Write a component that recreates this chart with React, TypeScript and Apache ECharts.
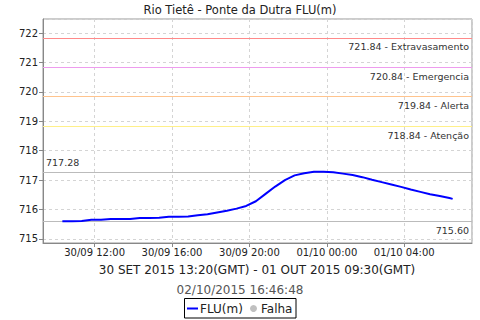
import React, { useEffect, useRef } from "react";
import * as echarts from "echarts";

const titleText = "Rio Tietê - Ponte da Dutra FLU(m)";
const subtitleText = "30 SET 2015 13:20(GMT) - 01 OUT 2015 09:30(GMT)";
const stampText = "02/10/2015 16:46:48";
const seriesName = "FLU(m)";
const failName = "Falha";

// local time (GMT-3), stored as UTC-valued timestamps
const times: string[] = [
  "2015-09-30 10:20", "2015-09-30 10:50", "2015-09-30 11:20", "2015-09-30 11:50",
  "2015-09-30 12:20", "2015-09-30 12:50", "2015-09-30 13:20", "2015-09-30 13:50",
  "2015-09-30 14:20", "2015-09-30 14:50", "2015-09-30 15:20", "2015-09-30 15:50",
  "2015-09-30 16:20", "2015-09-30 16:50", "2015-09-30 17:20", "2015-09-30 17:50",
  "2015-09-30 18:20", "2015-09-30 18:50", "2015-09-30 19:20", "2015-09-30 19:50",
  "2015-09-30 20:20", "2015-09-30 20:50", "2015-09-30 21:20", "2015-09-30 21:50",
  "2015-09-30 22:20", "2015-09-30 22:50", "2015-09-30 23:20", "2015-09-30 23:50",
  "2015-10-01 00:20", "2015-10-01 00:50", "2015-10-01 01:20", "2015-10-01 01:50",
  "2015-10-01 02:20", "2015-10-01 02:50", "2015-10-01 03:20", "2015-10-01 03:50",
  "2015-10-01 04:20", "2015-10-01 04:50", "2015-10-01 05:20", "2015-10-01 05:50",
  "2015-10-01 06:20", "2015-10-01 06:30",
];
const levels: number[] = [
  715.60, 715.60, 715.61, 715.65,
  715.65, 715.68, 715.68, 715.68,
  715.71, 715.71, 715.72, 715.75,
  715.75, 715.76, 715.80, 715.84,
  715.90, 715.96, 716.03, 716.12,
  716.28, 716.53, 716.78, 717.00,
  717.16, 717.23, 717.28, 717.28,
  717.27, 717.22, 717.17, 717.10,
  717.01, 716.93, 716.85, 716.77,
  716.68, 716.60, 716.52, 716.46,
  716.39, 716.36,
];

const thresholdValues: number[] = [721.84, 720.84, 719.84, 718.84];
const thresholdNames: string[] = ["Extravasamento", "Emergencia", "Alerta", "Atenção"];
const thresholdColors: string[] = ["#ff8a8a", "#ee9cee", "#ffc48e", "#fff08a"];
const maxValue = 717.28;
const minValue = 715.6;

const axisStart = "2015-09-30 09:20";
const axisEnd = "2015-10-01 07:30";
const yMin = 714.86;
const yMax = 722.48;

function ts(s: string): number {
  const [d, t] = s.split(" ");
  const [Y, M, D] = d.split("-").map(Number);
  const [h, m] = t.split(":").map(Number);
  return Date.UTC(Y, M - 1, D, h, m);
}
function pad(n: number) {
  return n < 10 ? "0" + n : "" + n;
}

export default function App() {
  const ref = useRef<HTMLDivElement>(null);
  useEffect(() => {
    if (!ref.current) return;
    const chart = echarts.init(ref.current, null, { renderer: "svg" });
    const font = "DejaVu Sans";
    const markData: any[] = thresholdValues.map((v, i) => ({
      yAxis: v,
      lineStyle: { color: thresholdColors[i], width: 1.2, type: "solid" },
      label: {
        show: true,
        position: "insideEndBottom",
        formatter: v.toFixed(2) + " - " + thresholdNames[i],
        color: "#333",
        fontSize: 9.5,
        fontFamily: font,
        distance: [3, 4],
      },
    }));
    markData.push({
      yAxis: maxValue,
      lineStyle: { color: "#bbbbbb", width: 1, type: "solid" },
      label: {
        show: true,
        position: "insideStartTop",
        formatter: maxValue.toFixed(2),
        color: "#333",
        fontSize: 9.5,
        fontFamily: font,
        distance: [3, 4],
      },
    });
    markData.push({
      yAxis: minValue,
      lineStyle: { color: "#bbbbbb", width: 1, type: "solid" },
      label: {
        show: true,
        position: "insideEndBottom",
        formatter: minValue.toFixed(2),
        color: "#333",
        fontSize: 9.5,
        fontFamily: font,
        distance: [3, 4],
      },
    });

    chart.setOption({
      animation: false,
      useUTC: true,
      backgroundColor: "#ffffff",
      grid: {
        left: 43,
        right: 8,
        top: 19,
        bottom: 77,
        show: true,
        borderColor: "#999",
        borderWidth: 1,
        containLabel: false,
      },
      xAxis: {
        type: "time",
        min: ts(axisStart),
        max: ts(axisEnd),
        splitNumber: 5,
        axisLine: { show: true, lineStyle: { color: "#888" } },
        axisTick: { show: true, length: 4, lineStyle: { color: "#888" } },
        axisLabel: {
          showMinLabel: false,
          showMaxLabel: false,
          color: "#222",
          fontSize: 10,
          fontFamily: font,
          margin: 4,
          formatter: (val: number) => {
            const d = new Date(val);
            return (
              pad(d.getUTCDate()) + "/" + pad(d.getUTCMonth() + 1) + " " +
              pad(d.getUTCHours()) + ":" + pad(d.getUTCMinutes())
            );
          },
        },
        splitLine: { show: true, lineStyle: { color: "#d4d4d4", type: [3, 3] } },
      },
      yAxis: {
        type: "value",
        min: yMin,
        max: yMax,
        splitNumber: 8,
        axisLine: { show: true, lineStyle: { color: "#888" } },
        axisTick: { show: true, length: 4, lineStyle: { color: "#888" } },
        axisLabel: {
          showMinLabel: false,
          showMaxLabel: false,
          color: "#222",
          fontSize: 10,
          fontFamily: font,
          margin: 5,
          formatter: (v: number) => String(Math.round(v)),
        },
        splitLine: { show: true, lineStyle: { color: "#d4d4d4", type: [3, 3] } },
      },
      series: [
        {
          name: seriesName,
          type: "line",
          data: times.map((t, i) => [ts(t), levels[i]]),
          showSymbol: false,
          symbol: "none",
          lineStyle: { color: "#0000ff", width: 2 },
          itemStyle: { color: "#0000ff" },
          z: 5,
          markLine: {
            silent: true,
            symbol: "none",
            data: markData,
            z: 3,
          },
        },
      ],
      graphic: [
        {
          type: "text",
          x: 240,
          y: 9.5,
          style: {
            text: titleText,
            fontSize: 11.5,
            fontFamily: font,
            fill: "#222",
            align: "center",
            verticalAlign: "middle",
          },
        },
        {
          type: "text",
          x: 257,
          y: 270,
          style: {
            text: subtitleText,
            fontSize: 12,
            fontFamily: font,
            fill: "#222",
            align: "center",
            verticalAlign: "middle",
          },
        },
        {
          type: "text",
          x: 240,
          y: 289.5,
          style: {
            text: stampText,
            fontSize: 12,
            fontFamily: font,
            fill: "#555",
            align: "center",
            verticalAlign: "middle",
          },
        },
        {
          type: "rect",
          shape: { x: 184.5, y: 298.5, width: 111.5, height: 19.5 },
          style: { fill: "#fff", stroke: "#000", lineWidth: 1 },
        },
        {
          type: "line",
          shape: { x1: 187, y1: 308.5, x2: 198, y2: 308.5 },
          style: { stroke: "#0000ff", lineWidth: 2 },
        },
        {
          type: "text",
          x: 200,
          y: 308.5,
          style: {
            text: seriesName,
            fontSize: 12,
            fontFamily: font,
            fill: "#222",
            align: "left",
            verticalAlign: "middle",
          },
        },
        {
          type: "circle",
          shape: { cx: 253.5, cy: 308.5, r: 3.5 },
          style: { fill: "#c0c0c0" },
        },
        {
          type: "text",
          x: 261,
          y: 308.5,
          style: {
            text: failName,
            fontSize: 12,
            fontFamily: font,
            fill: "#222",
            align: "left",
            verticalAlign: "middle",
          },
        },
      ],
    });
    return () => chart.dispose();
  }, []);
  return <div ref={ref} style={{ width: 480, height: 320, position: "absolute", left: 0, top: 0 }} />;
}
